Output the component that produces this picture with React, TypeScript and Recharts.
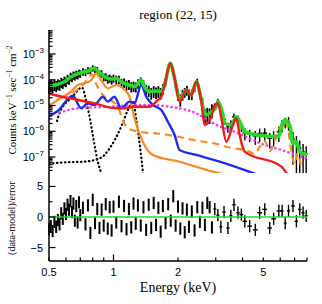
import React from 'react'
import {
  ComposedChart,
  ErrorBar,
  Line,
  ReferenceLine,
  Scatter,
  XAxis,
  YAxis,
} from 'recharts'

// axis ranges
const X_MIN = 0.5
const X_MAX = 8
const Y_MIN = 2.39e-8
const Y_MAX = 8.55e-3
const R_LIM = 7.2

// fine-binned part of the spectrum (keV, counts keV^-1 s^-1 cm^-2)
const fineEnergy = [
  0.5, 0.51, 0.52, 0.53, 0.54, 0.55, 0.56, 0.57, 0.58, 0.59, 0.6, 0.61, 0.62, 0.63, 0.64, 0.65, 0.66, 0.67, 0.68, 0.69, 0.7,
  0.72, 0.74, 0.76, 0.78, 0.8, 0.82, 0.84, 0.86, 0.88, 0.9, 0.92, 0.94, 0.96, 0.98, 1.0,
  1.03, 1.06, 1.09, 1.12, 1.15, 1.18, 1.21, 1.24, 1.27, 1.3,
  1.34, 1.38, 1.42, 1.46, 1.5, 1.54, 1.58, 1.62, 1.66, 1.7,
  1.75, 1.8, 1.85, 1.9, 1.95, 2.0, 2.05, 2.1, 2.15, 2.2, 2.25,
  2.32, 2.39, 2.46, 2.53, 2.6, 2.67, 2.74, 2.81, 2.88,
]
const fineCounts = [
  5.4e-5, 6.3e-5, 5.8e-5, 6.8e-5, 6.1e-5, 7.2e-5, 6.6e-5, 8.3e-5, 7.6e-5, 9.4e-5, 8.6e-5, 1.12e-4, 1.02e-4, 1.38e-4, 1.25e-4, 1.55e-4, 1.42e-4, 1.68e-4, 1.55e-4, 1.85e-4, 1.74e-4,
  2.1e-4, 1.98e-4, 2.36e-4, 2.3e-4, 2.85e-4, 2.55e-4, 2.45e-4, 1.82e-4, 1.76e-4, 1.3e-4, 1.33e-4, 1.08e-4, 1.17e-4, 1.01e-4, 1.18e-4,
  1.07e-4, 1.05e-4, 7.8e-5, 8.0e-5, 6.5e-5, 6.9e-5, 5.6e-5, 5.9e-5, 5.5e-5, 7.5e-5,
  9.0e-5, 7.0e-5, 4.3e-5, 4.0e-5, 3.2e-5, 3.8e-5, 3.4e-5, 3.8e-5, 3.25e-5, 4.7e-5,
  8.5e-5, 2.7e-4, 4.0e-4, 2.0e-4, 6.6e-5, 2.8e-5, 1.8e-5, 2.8e-5, 3.4e-5, 4.1e-5, 2.9e-5,
  2.9e-5, 5.2e-5, 8.4e-5, 3.0e-5, 1.3e-5, 4.6e-6, 5.0e-6, 4.8e-6, 7.2e-6,
]
const fineRelErr = [
  0.48, 0.47, 0.47, 0.46, 0.46, 0.45, 0.44, 0.43, 0.42, 0.41, 0.4, 0.39, 0.38, 0.37, 0.36, 0.35, 0.35, 0.35, 0.34, 0.33, 0.33,
  0.32, 0.31, 0.3, 0.29, 0.28, 0.28, 0.29, 0.31, 0.32, 0.33, 0.34, 0.35, 0.35, 0.36, 0.35,
  0.36, 0.37, 0.38, 0.4, 0.42, 0.42, 0.43, 0.43, 0.42, 0.4,
  0.36, 0.38, 0.44, 0.46, 0.48, 0.48, 0.48, 0.48, 0.48, 0.45,
  0.34, 0.23, 0.18, 0.23, 0.34, 0.45, 0.5, 0.45, 0.41, 0.41, 0.44,
  0.44, 0.37, 0.3, 0.41, 0.52, 0.6, 0.62, 0.6, 0.56,
]
const fineResid = [
  -2.0, -1.5, -2.3, -0.8, -1.6, -0.5, -1.2, 0.6, -0.3, 1.4, 0.5, 2.0, 1.2, 2.6, 0.8, 2.2, -0.6, 1.8, -0.9, 2.4, 0.3,
  1.5, -1.2, 1.9, -2.6, 2.8, -1.0, 1.3, -1.8, 1.2, -1.4, 2.1, -1.9, 1.6, -2.2, 1.7,
  -0.9, 2.5, -1.5, 1.8, -2.0, 1.3, -1.7, 2.2, -1.1, 1.9,
  -1.4, 1.6, -2.1, 2.0, -1.8, 2.3, -1.3, 1.5, -2.4, 1.8,
  -1.0, 2.1, -0.6, 3.4, -1.4, 1.7, -1.9, 1.4, -2.5, 1.2, -1.6,
  0.9, -2.2, 1.6, -0.8, 1.5, -1.3, 2.3, 1.6, -1.7,
]

// coarse-binned part above ~3 keV
const coarseEnergy = [2.97, 3.07, 3.17, 3.28, 3.42, 3.53, 3.65, 3.81, 3.95, 4.1, 4.32, 4.59, 4.81, 5.08, 5.36, 5.59, 5.91, 6.12, 6.33, 6.56, 6.88, 7.14, 7.4, 7.67, 7.93]
const coarseCounts = [9.5e-6, 1.45e-5, 7.0e-6, 2.9e-6, 1.5e-6, 1.9e-6, 3.6e-6, 3.0e-6, 1.6e-6, 8.8e-7, 7.6e-7, 6.6e-7, 8.2e-7, 8.5e-7, 5.4e-7, 6.3e-7, 9.5e-7, 1.8e-6, 2.3e-6, 2.3e-6, 5.0e-7, 3.3e-7, 2.2e-7, 1.6e-7, 1.3e-7]
const coarseRelErr = [0.3, 0.25, 0.3, 0.38, 0.42, 0.42, 0.35, 0.35, 0.4, 0.5, 0.5, 0.55, 0.55, 0.55, 0.6, 0.6, 0.6, 0.5, 0.45, 0.55, 0.9, 0.95, 1.0, 1.0, 1.0]
const coarseHalfWidth = [0.05, 0.05, 0.05, 0.06, 0.06, 0.06, 0.07, 0.07, 0.08, 0.1, 0.11, 0.12, 0.12, 0.13, 0.13, 0.14, 0.14, 0.1, 0.1, 0.11, 0.14, 0.13, 0.13, 0.13, 0.13]
const coarseResid = [1.3, 0.3, -1.6, 0.8, -1.8, 0.2, 2.0, 0.7, 0.4, -0.7, -1.5, -2.1, 0.7, 1.25, -1.8, -0.3, 1.0, 1.0, -1.0, 1.0, 1.8, -0.7, 1.25, 0.7, 0.2]

// model components, [keV, counts]
const totalModel: [number, number][] = [
  [0.5, 5.7e-5], [0.549, 6.65e-5], [0.59, 8.4e-5], [0.634, 1.31e-4], [0.707, 1.88e-4], [0.758, 2.19e-4],
  [0.815, 2.78e-4], [0.845, 2.19e-4], [0.908, 1.31e-4], [0.976, 1.07e-4], [1.029, 1.14e-4], [1.086, 8.4e-5],
  [1.188, 6.25e-5], [1.254, 5.37e-5], [1.347, 9.8e-5], [1.396, 5.37e-5], [1.473, 3.44e-5], [1.583, 3.66e-5],
  [1.671, 3.44e-5], [1.731, 6.25e-5], [1.841, 4.35e-4], [1.928, 1.14e-4], [2.034, 1.8e-5], [2.186, 4.0e-5],
  [2.307, 2.56e-5], [2.435, 8.4e-5], [2.57, 1.64e-5], [2.662, 4.98e-6], [2.712, 4.28e-6], [2.86, 5.5e-6],
  [3.02, 8.98e-6], [3.072, 1.41e-5], [3.242, 4.28e-6], [3.302, 2.04e-6], [3.548, 1.75e-6], [3.744, 3.67e-6],
  [3.952, 1.75e-6], [4.095, 9.6e-7], [4.725, 7.15e-7], [5.859, 6.14e-7], [6.297, 2.74e-6], [6.644, 1.75e-6],
  [6.884, 3.4e-7], [7.14, 3.93e-7], [7.399, 1.61e-7], [8.0, 1.2e-7],
]
const redModel: [number, number][] = [
  [0.5, 2.9e-5], [0.53, 2.56e-5], [0.681, 1.64e-5], [0.815, 1.22e-5], [0.976, 8.2e-6], [1.126, 7.8e-6],
  [1.254, 8.98e-6], [1.473, 8.98e-6], [1.611, 1.64e-5], [1.671, 2.2e-5], [1.731, 6.25e-5], [1.841, 4.35e-4],
  [1.928, 1.14e-4], [2.034, 1.41e-5], [2.186, 4.0e-5], [2.307, 2.56e-5], [2.435, 8.4e-5], [2.57, 1.41e-5],
  [2.662, 1.75e-6], [2.81, 2.74e-6], [2.965, 8.98e-6], [3.072, 1.22e-5], [3.187, 3.18e-6], [3.363, 3.93e-7],
  [3.61, 1.75e-6], [3.744, 3.18e-6], [3.88, 7.15e-7], [4.095, 1.61e-7], [6.076, 4.2e-8], [6.5, 2.0e-8],
]
const blueModel: [number, number][] = [
  [0.5, 3.8e-6], [0.549, 6.1e-6], [0.645, 2.4e-5], [0.707, 7.8e-6], [0.758, 1.22e-5], [0.815, 1.05e-5],
  [0.891, 2.2e-5], [0.94, 1.41e-5], [1.011, 2.2e-5], [1.086, 7.8e-6], [1.188, 1.41e-5], [1.254, 1.22e-5],
  [1.347, 6.25e-5], [1.422, 2.2e-5], [1.526, 1.05e-5], [1.671, 6.7e-6], [1.794, 2.35e-6], [1.928, 7.15e-7],
  [2.034, 1.87e-7], [2.435, 1.2e-7], [3.129, 6.57e-8], [4.6, 2.2e-8],
]
const orangeModel: [number, number][] = [
  [0.5, 1.0e-5], [0.549, 1.64e-5], [0.634, 3.44e-5], [0.681, 6.25e-5], [0.732, 7.3e-5], [0.787, 9.8e-5],
  [0.83, 1.78e-4], [0.876, 9.8e-5], [0.94, 4.65e-5], [1.029, 6.25e-5], [1.126, 4.0e-5], [1.188, 2.2e-5],
  [1.254, 3.18e-6], [1.37, 3.9e-7], [1.526, 1.2e-7], [2.034, 6.57e-8], [2.911, 2.69e-8], [3.2, 2.2e-8],
]
const orangeDashModel: [number, number][] = [
  [0.645, 3.0e-5], [0.719, 6.25e-5], [0.8, 1.6e-4], [0.83, 7.0e-5], [0.908, 2.2e-5], [0.992, 1.41e-5],
  [1.048, 9.0e-6], [1.105, 2.74e-6], [1.166, 1.3e-6], [1.323, 9.6e-7], [1.64, 8.0e-7], [2.034, 6.0e-7],
  [2.34, 4.6e-7], [3.13, 3.0e-7], [3.36, 2.5e-7], [4.32, 1.6e-7], [4.56, 1.3e-7], [4.81, 2.5e-7],
  [5.08, 4.2e-7], [5.36, 1.7e-7], [5.97, 1.4e-6], [6.3, 2.6e-6], [6.52, 1.2e-6], [6.77, 1.5e-7],
  [7.01, 5.5e-8], [7.23, 1.4e-7], [7.54, 3.0e-8],
]
const magentaModel: [number, number][] = [
  [0.56, 5.3e-6], [0.681, 7.8e-6], [0.976, 8.98e-6], [1.254, 1.05e-5], [1.473, 1.05e-5], [1.82, 8.98e-6],
  [2.435, 4.98e-6], [2.965, 1.9e-6], [3.676, 9.6e-7], [5.08, 2.92e-7], [6.08, 1.87e-7], [7.54, 1.03e-7], [8.0, 9.0e-8],
]
const dottedA: [number, number][] = [
  [0.545, 2.5e-6], [0.559, 4.98e-6], [0.645, 2.2e-5], [0.712, 5.0e-5], [0.75, 1.2e-5], [0.78, 2.5e-6],
  [0.81, 4.0e-7], [0.845, 6.5e-8], [0.88, 2.2e-8],
]
const dottedB: [number, number][] = [
  [0.5, 5.5e-8], [0.59, 6.2e-8], [0.732, 6.6e-8], [0.876, 9.5e-8], [0.96, 2.2e-7], [1.09, 1.6e-6],
  [1.17, 7.0e-6], [1.235, 1.5e-5], [1.28, 2.5e-6], [1.33, 2.5e-7], [1.375, 2.2e-8],
]

// tick positions
const xTicks = [0.5, 0.6, 0.7, 0.8, 0.9, 1, 2, 3, 4, 5, 6, 7, 8]
const xLabels = [0.5, 1, 2, 5]
const yDecades = [1e-8, 1e-7, 1e-6, 1e-5, 1e-4, 1e-3]
const yMantissas = [1, 2, 3, 4, 5, 6, 7, 8, 9]
const residTicks = [-5, -2.5, 0, 2.5, 5]
const residLabels = [-5, 0, 5]

const yTicks = yDecades
  .flatMap((d) => yMantissas.map((m) => m * d))
  .filter((t) => t >= Y_MIN && t <= Y_MAX)

const toPts = (arr: [number, number][]) => arr.map(([e, v]) => ({ e, v }))

const fineSpec = fineEnergy.map((e, i) => {
  const v = fineCounts[i]
  const err = v * fineRelErr[i]
  return { e, v, err: [Math.min(err, v - Y_MIN), err] }
})
const coarseSpec = coarseEnergy.map((e, i) => {
  const v = coarseCounts[i]
  const err = v * coarseRelErr[i]
  return { e, v, err: [Math.min(err, v - Y_MIN), err], xerr: coarseHalfWidth[i] }
})
const fineRes = fineEnergy.map((e, i) => ({ e, v: fineResid[i], err: 1 }))
const coarseRes = coarseEnergy.map((e, i) => ({ e, v: coarseResid[i], err: 1, xerr: coarseHalfWidth[i] }))

const sans = "'Liberation Sans', Arial, sans-serif"
const serif = "'Liberation Serif', 'Times New Roman', serif"

type Side = 'left' | 'right' | 'top' | 'bottom'

const isLogMajor = (v: number) => Math.abs(Math.log10(v) - Math.round(Math.log10(v))) < 1e-6
const isXMajor = (v: number) => v === 1
const isRMajor = (v: number) => v % 5 === 0

function makeTick(
  side: Side,
  isMajor: (v: number) => boolean,
  label?: (v: number, x: number, y: number) => React.ReactNode,
) {
  return (props: any) => {
    const { x, y, payload } = props
    const v = payload.value as number
    const len = isMajor(v) ? 6.5 : 3.5
    const dx = side === 'left' ? len : side === 'right' ? -len : 0
    const dy = side === 'top' ? len : side === 'bottom' ? -len : 0
    return (
      <g>
        <line x1={x} y1={y} x2={x + dx} y2={y + dy} stroke="#000" strokeWidth={1.2} />
        {label ? label(v, x, y) : null}
      </g>
    )
  }
}

const logLabel = (v: number, x: number, y: number) =>
  isLogMajor(v) ? (
    <text x={x - 5} y={y + 4} textAnchor="end" fontFamily={sans} fontSize={11} fill="#000">
      10
      <tspan dy={-5} fontSize={8}>
        {'\u2212' + -Math.round(Math.log10(v))}
      </tspan>
    </text>
  ) : null

const energyLabel = (v: number, x: number, y: number) =>
  xLabels.includes(v) ? (
    <text x={x} y={y + 15} textAnchor="middle" fontFamily={sans} fontSize={11} fill="#000">
      {v}
    </text>
  ) : null

const residLabel = (v: number, x: number, y: number) =>
  residLabels.includes(v) ? (
    <text x={x - 6} y={y + 4} textAnchor="end" fontFamily={sans} fontSize={11} fill="#000">
      {v < 0 ? '\u2212' + -v : v}
    </text>
  ) : null

const frame = { stroke: '#000', strokeWidth: 1.5 }
const axisCommon = {
  type: 'number' as const,
  tickLine: false,
  tickSize: 0,
  tickMargin: 0,
  interval: 0 as const,
  axisLine: frame,
  allowDataOverflow: true,
}

const GREEN = '#22dd22'
const RED = '#f01c1c'
const BLUE = '#1f2cf0'
const ORANGE = '#f7891f'
const MAGENTA = '#f03cf0'

const noDot = () => <g />

export default function App() {
  return (
    <div style={{ position: 'absolute', left: 0, top: 0, width: 322, height: 304, background: '#fff' }}>
      <div style={{ position: 'absolute', left: 0, top: 0 }}>
        <ComposedChart width={322} height={174} margin={{ top: 30, right: 15, bottom: 1, left: 0 }}>
          <XAxis {...axisCommon} xAxisId="b" dataKey="e" scale="log" domain={[X_MIN, X_MAX]} ticks={xTicks}
            orientation="bottom" height={0} tick={makeTick('bottom', isXMajor)} />
          <XAxis {...axisCommon} xAxisId="t" dataKey="e" scale="log" domain={[X_MIN, X_MAX]} ticks={xTicks}
            orientation="top" height={0} tick={makeTick('top', isXMajor)} />
          <YAxis {...axisCommon} yAxisId="l" dataKey="v" scale="log" domain={[Y_MIN, Y_MAX]} ticks={yTicks}
            orientation="left" width={49} tick={makeTick('left', isLogMajor, logLabel)} />
          <YAxis {...axisCommon} yAxisId="r" dataKey="v" scale="log" domain={[Y_MIN, Y_MAX]} ticks={yTicks}
            orientation="right" width={0} tick={makeTick('right', isLogMajor)} />

          <Scatter data={fineSpec} xAxisId="b" yAxisId="l" dataKey="v" shape={noDot} isAnimationActive={false}>
            <ErrorBar dataKey="err" direction="y" width={0} stroke="#000" strokeWidth={1.8} />
          </Scatter>
          <Scatter data={coarseSpec} xAxisId="b" yAxisId="l" dataKey="v" shape={noDot} isAnimationActive={false}>
            <ErrorBar dataKey="err" direction="y" width={0} stroke="#000" strokeWidth={1.4} />
            <ErrorBar dataKey="xerr" direction="x" width={0} stroke="#000" strokeWidth={1.4} />
          </Scatter>

          <Line data={toPts(dottedB)} xAxisId="b" yAxisId="l" dataKey="v" type="monotone" stroke="#000"
            strokeWidth={2.2} strokeDasharray="0.5 3.5" strokeLinecap="round" dot={false} isAnimationActive={false} />
          <Line data={toPts(dottedA)} xAxisId="b" yAxisId="l" dataKey="v" type="monotone" stroke="#000"
            strokeWidth={2.2} strokeDasharray="0.5 3.5" strokeLinecap="round" dot={false} isAnimationActive={false} />
          <Line data={toPts(magentaModel)} xAxisId="b" yAxisId="l" dataKey="v" type="monotone" stroke={MAGENTA}
            strokeWidth={2.4} strokeDasharray="0.5 4" strokeLinecap="round" dot={false} isAnimationActive={false} />
          <Line data={toPts(orangeDashModel)} xAxisId="b" yAxisId="l" dataKey="v" type="monotone" stroke={ORANGE}
            strokeWidth={2.2} strokeDasharray="7 5" dot={false} isAnimationActive={false} />
          <Line data={toPts(orangeModel)} xAxisId="b" yAxisId="l" dataKey="v" type="monotone" stroke={ORANGE}
            strokeWidth={2.2} dot={false} isAnimationActive={false} />
          <Line data={toPts(blueModel)} xAxisId="b" yAxisId="l" dataKey="v" type="monotone" stroke={BLUE}
            strokeWidth={2.4} dot={false} isAnimationActive={false} />
          <Line data={toPts(totalModel)} xAxisId="b" yAxisId="l" dataKey="v" type="monotone" stroke={GREEN}
            strokeWidth={3.6} dot={false} isAnimationActive={false} />
          <Line data={toPts(redModel)} xAxisId="b" yAxisId="l" dataKey="v" type="monotone" stroke={RED}
            strokeWidth={2.4} dot={false} isAnimationActive={false} />
        </ComposedChart>
      </div>

      <div style={{ position: 'absolute', left: 0, top: 0 }}>
        <ComposedChart width={322} height={304} margin={{ top: 173, right: 15, bottom: 0, left: 0 }}>
          <XAxis {...axisCommon} xAxisId="b" dataKey="e" scale="log" domain={[X_MIN, X_MAX]} ticks={xTicks}
            orientation="bottom" height={43} tick={makeTick('bottom', isXMajor, energyLabel)} />
          <XAxis {...axisCommon} xAxisId="t" dataKey="e" scale="log" domain={[X_MIN, X_MAX]} ticks={xTicks}
            orientation="top" height={0} tick={makeTick('top', isXMajor)} />
          <YAxis {...axisCommon} yAxisId="l" dataKey="v" domain={[-R_LIM, R_LIM]} ticks={residTicks}
            orientation="left" width={49} tick={makeTick('left', isRMajor, residLabel)} />
          <YAxis {...axisCommon} yAxisId="r" dataKey="v" domain={[-R_LIM, R_LIM]} ticks={residTicks}
            orientation="right" width={0} tick={makeTick('right', isRMajor)} />

          <Scatter data={fineRes} xAxisId="b" yAxisId="l" dataKey="v" shape={noDot} isAnimationActive={false}>
            <ErrorBar dataKey="err" direction="y" width={0} stroke="#000" strokeWidth={2} />
          </Scatter>
          <Scatter data={coarseRes} xAxisId="b" yAxisId="l" dataKey="v" shape={noDot} isAnimationActive={false}>
            <ErrorBar dataKey="err" direction="y" width={0} stroke="#000" strokeWidth={1.4} />
            <ErrorBar dataKey="xerr" direction="x" width={0} stroke="#000" strokeWidth={1.4} />
          </Scatter>
          <ReferenceLine xAxisId="b" yAxisId="l" y={0} stroke={GREEN} strokeWidth={1.3} />
        </ComposedChart>
      </div>

      <svg width={322} height={304} style={{ position: 'absolute', left: 0, top: 0, pointerEvents: 'none' }}>
        <text x={178} y={19} textAnchor="middle" fontFamily={serif} fontSize={13} fill="#000">
          region (22, 15)
        </text>
        <text transform="translate(16,100) rotate(-90)" textAnchor="middle" fontFamily={serif} fontSize={11} fill="#000">
          Counts keV
          <tspan dy={-4} fontSize={7.5}>{'\u22121'}</tspan>
          <tspan dy={4}> sec</tspan>
          <tspan dy={-4} fontSize={7.5}>{'\u22121'}</tspan>
          <tspan dy={4}> cm</tspan>
          <tspan dy={-4} fontSize={7.5}>{'\u22122'}</tspan>
        </text>
        <text transform="translate(15,218) rotate(-90)" textAnchor="middle" fontFamily={serif} fontSize={10} fill="#000">
          (data-model)/error
        </text>
        <text x={178} y={292} textAnchor="middle" fontFamily={serif} fontSize={14} fill="#000">
          Energy (keV)
        </text>
      </svg>
    </div>
  )
}
